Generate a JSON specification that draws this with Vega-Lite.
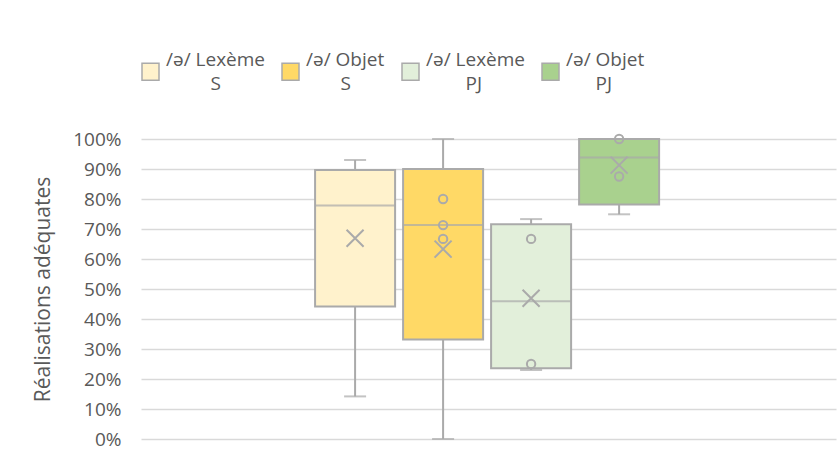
{
  "$schema": "https://vega.github.io/schema/vega-lite/v6.json",
  "autosize": {"type": "none"},
  "width": 695,
  "height": 300,
  "padding": {"left": 141, "top": 139, "right": 4, "bottom": 21},
  "background": "white",
  "datasets": {
    "boxes": [
      {"series": "/ə/ Lexème S", "min": 0.142, "q1": 0.442, "median": 0.778, "q3": 0.897, "max": 0.93, "mean": 0.669},
      {"series": "/ə/ Objet S", "min": 0.0, "q1": 0.332, "median": 0.713, "q3": 0.9, "max": 1.0, "mean": 0.633},
      {"series": "/ə/ Lexème PJ", "min": 0.23, "q1": 0.236, "median": 0.459, "q3": 0.716, "max": 0.733, "mean": 0.469},
      {"series": "/ə/ Objet PJ", "min": 0.749, "q1": 0.782, "median": 0.938, "q3": 1.0, "max": 1.0, "mean": 0.913}
    ],
    "points": [
      {"series": "/ə/ Objet S", "value": 0.8},
      {"series": "/ə/ Objet S", "value": 0.713},
      {"series": "/ə/ Objet S", "value": 0.667},
      {"series": "/ə/ Lexème PJ", "value": 0.667},
      {"series": "/ə/ Lexème PJ", "value": 0.25},
      {"series": "/ə/ Objet PJ", "value": 1.0},
      {"series": "/ə/ Objet PJ", "value": 0.875}
    ]
  },
  "encoding": {
    "x": {"datum": "g", "type": "nominal", "scale": {"paddingInner": 0, "paddingOuter": 0.5101, "align": 0.496}, "axis": null},
    "xOffset": {
      "field": "series", "type": "nominal",
      "scale": {"domain": ["/ə/ Lexème S", "/ə/ Objet S", "/ə/ Lexème PJ", "/ə/ Objet PJ"], "paddingInner": 0.0909, "paddingOuter": 0}
    }
  },
  "layer": [
    {
      "data": {"name": "boxes"},
      "mark": {"type": "rule", "color": "#aaaaaa", "strokeWidth": 2},
      "encoding": {
        "y": {"field": "min", "type": "quantitative", "scale": {"domain": [0, 1]},
          "axis": {"format": ".0%", "tickCount": 11, "values": [0, 0.1, 0.2, 0.3, 0.4, 0.5, 0.6, 0.7, 0.8, 0.9, 1.0], "labelOverlap": false, "title": "Réalisations adéquates"}},
        "y2": {"field": "max"}
      }
    },
    {
      "data": {"name": "boxes"},
      "mark": {"type": "tick", "color": "#aaaaaa", "size": 22, "thickness": 2},
      "encoding": {"y": {"field": "min", "type": "quantitative"}}
    },
    {
      "data": {"name": "boxes"},
      "mark": {"type": "tick", "color": "#aaaaaa", "size": 22, "thickness": 2},
      "encoding": {"y": {"field": "max", "type": "quantitative"}}
    },
    {
      "data": {"name": "boxes"},
      "mark": {"type": "bar", "stroke": "#aaaaaa", "strokeWidth": 2, "fillOpacity": 1},
      "encoding": {
        "y": {"field": "q1", "type": "quantitative"},
        "y2": {"field": "q3"},
        "fill": {
          "field": "series", "type": "nominal",
          "scale": {"domain": ["/ə/ Lexème S", "/ə/ Objet S", "/ə/ Lexème PJ", "/ə/ Objet PJ"], "range": ["#FFF2CC", "#FFD966", "#E2EFDA", "#A9D18E"]},
          "legend": {
            "orient": "none", "legendX": 0, "legendY": -77, "direction": "horizontal", "title": null,
            "symbolType": "square", "symbolSize": 289, "symbolStrokeColor": "#aaaaaa", "symbolStrokeWidth": 1.5,
            "labelFont": "Open Sans", "labelFontSize": 19, "labelColor": "#595959", "labelOffset": 6, "columnPadding": 14, "labelLimit": 300,
            "labelBaseline": "line-bottom",
            "labelExpr": "datum.label == '/ə/ Lexème S' ? ['/ə/ Lexème', '\u200b\u00a0\u00a0\u00a0\u00a0\u00a0\u00a0\u00a0\u00a0\u00a0S'] : datum.label == '/ə/ Objet S' ? ['/ə/ Objet', '\u200b\u00a0\u00a0\u00a0\u00a0\u00a0\u00a0\u00a0S'] : datum.label == '/ə/ Lexème PJ' ? ['/ə/ Lexème', '\u200b\u00a0\u00a0\u00a0\u00a0\u00a0\u00a0\u00a0\u00a0PJ'] : ['/ə/ Objet', '\u200b\u00a0\u00a0\u00a0\u00a0\u00a0\u00a0PJ']"
          }
        }
      }
    },
    {
      "data": {"name": "boxes"},
      "mark": {"type": "tick", "color": "#aaaaaa", "size": 80, "thickness": 2},
      "encoding": {"y": {"field": "median", "type": "quantitative"}}
    },
    {
      "data": {"name": "boxes"},
      "mark": {"type": "point", "shape": "M-1,-1L1,1M1,-1L-1,1", "size": 290, "filled": false, "stroke": "#aaaaaa", "strokeWidth": 2, "opacity": 1},
      "encoding": {"y": {"field": "mean", "type": "quantitative"}}
    },
    {
      "data": {"name": "points"},
      "mark": {"type": "point", "shape": "circle", "size": 70, "filled": false, "stroke": "#aaaaaa", "strokeWidth": 2, "opacity": 1},
      "encoding": {"y": {"field": "value", "type": "quantitative"}}
    }
  ],
  "config": {
    "view": {"stroke": null},
    "style": {"guide-label": {"lineHeight": 24}},
    "axisY": {
      "grid": true, "gridColor": "#d9d9d9", "gridWidth": 1.5, "domain": false, "ticks": false, "labelOverlap": false, "tickCount": 11, "labelLineHeight": 19,
      "labelFont": "Open Sans", "labelFontSize": 19, "labelColor": "#595959", "labelPadding": 20,
      "titleFont": "Open Sans", "titleFontSize": 21, "titleColor": "#595959", "titleFontWeight": "normal", "titlePadding": 19
    }
  }
}
